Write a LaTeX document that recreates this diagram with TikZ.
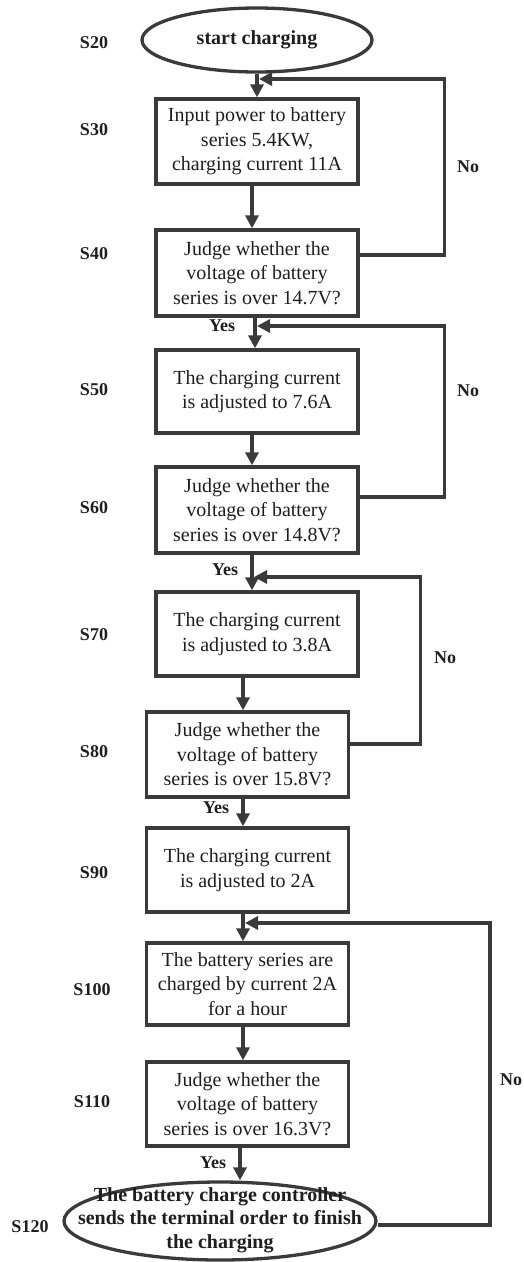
\documentclass[tikz,border=0pt]{standalone}
\usepackage{fontspec}
\setmainfont{Liberation Serif}
\usetikzlibrary{arrows.meta,shapes.geometric,calc}
\definecolor{ln}{HTML}{3A3A3A}
\definecolor{tx}{HTML}{1E1E1E}
\tikzset{
  procbox/.style={draw=ln, line width=3.3pt, rectangle, inner sep=0pt, align=center, text=tx,
    font=\fontsize{20}{24.5}\selectfont, minimum width=202pt},
  termnode/.style={draw=ln, line width=3.3pt, ellipse, inner sep=0pt, align=center, text=tx,
    font=\bfseries\fontsize{20}{23.5}\selectfont},
  termtext/.style={inner sep=0pt, align=center, text=tx, font=\bfseries\fontsize{20}{23.5}\selectfont},
  steplabel/.style={text=tx, font=\bfseries\fontsize{18}{20}\selectfont, inner sep=0pt},
  arr/.style={draw=ln, line width=3.3pt, -{Triangle[width=13pt,length=13pt]}},
  loopline/.style={draw=ln, line width=3.3pt, -{Triangle[width=13pt,length=13pt]}}
}
\begin{document}
\begin{tikzpicture}[x=1pt,y=-1pt]
\useasboundingbox (0,0) rectangle (524,1262);
% nodes
\node[termnode, minimum width=230pt, minimum height=64pt] (s20) at (257,40) {start charging};
\node[procbox, minimum height=85pt] (s30) at (257,141.5) {Input power to battery\\series 5.4KW,\\charging current 11A};
\node[procbox, minimum height=86pt] (s40) at (257,273) {Judge whether the\\voltage of battery\\series is over 14.7V?};
\node[procbox, minimum height=83pt] (s50) at (257,391.5) {The charging current\\is adjusted to 7.6A};
\node[procbox, minimum height=86pt] (s60) at (257,510) {Judge whether the\\voltage of battery\\series is over 14.8V?};
\node[procbox, minimum height=84pt] (s70) at (257,634) {The charging current\\is adjusted to 3.8A};
\node[procbox, minimum height=85pt] (s80) at (247.5,754.5) {Judge whether the\\voltage of battery\\series is over 15.8V?};
\node[procbox, minimum height=84pt] (s90) at (247.5,870) {The charging current\\is adjusted to 2A};
\node[procbox, minimum height=82pt] (s100) at (247.5,984) {The battery series are\\charged by current 2A\\for a hour};
\node[procbox, minimum height=84pt] (s110) at (247.5,1104) {Judge whether the\\voltage of battery\\series is over 16.3V?};
\node[draw=ln, line width=3.3pt, ellipse, inner sep=0pt, minimum width=312pt, minimum height=78pt] (s120) at (220,1221) {};
\node[termtext] (s120t) at ([yshift=1pt]s120.center) {The battery charge controller\\sends the terminal order to finish\\the charging};
% step labels
\node[steplabel] (l20) at (94,43) {S20};
\node[steplabel] (l30) at (94,130) {S30};
\node[steplabel] (l40) at (94,254) {S40};
\node[steplabel] (l50) at (94,390) {S50};
\node[steplabel] (l60) at (94,508) {S60};
\node[steplabel] (l70) at (94,635) {S70};
\node[steplabel] (l80) at (94,752) {S80};
\node[steplabel] (l90) at (94,873) {S90};
\node[steplabel] (l100) at (92,990) {S100};
\node[steplabel] (l110) at (92,1102) {S110};
\node[steplabel] (l120) at (30,1227) {S120};
% yes / no labels
\node[steplabel] (y40) at (222,326) {Yes};
\node[steplabel] (y60) at (225,570) {Yes};
\node[steplabel] (y80) at (216,808) {Yes};
\node[steplabel] (y110) at (213,1163) {Yes};
\node[steplabel] (n40) at (468,167) {No};
\node[steplabel] (n60) at (468,391) {No};
\node[steplabel] (n80) at (445,658) {No};
\node[steplabel] (n120) at (511,1080) {No};
% main flow
\draw[arr] (s20.south) -- (s30.north);
\draw[arr] ([xshift=-5pt]s30.south) -- ([xshift=-5pt]s40.north);
\draw[arr] ([xshift=-2pt]s40.south) -- ([xshift=-2pt]s50.north);
\draw[arr] ([xshift=-5pt]s50.south) -- ([xshift=-5pt]s60.north);
\draw[arr] ([xshift=-5pt]s60.south) -- ([xshift=-5pt]s70.north);
\draw[arr] ([xshift=-4.5pt]s70.south -| s80.north) -- ([xshift=-4.5pt]s80.north);
\draw[arr] ([xshift=-4.5pt]s80.south) -- ([xshift=-4.5pt]s90.north);
\draw[arr] ([xshift=-4.5pt]s90.south) -- ([xshift=-4.5pt]s100.north);
\draw[arr] ([xshift=-4.5pt]s100.south) -- ([xshift=-4.5pt]s110.north);
\draw[arr] ([xshift=-7.5pt]s110.south) -- ([xshift=-7.5pt]s110.south |- s120.north);
% loops
\coordinate (t1) at (259,79);
\coordinate (t2) at (257,326);
\coordinate (t3) at (254,577);
\coordinate (t4) at (245,923);
\draw[loopline] ([yshift=18pt]s40.east) -- ++(85,0) |- (t1);
\draw[loopline] ([yshift=13pt]s60.east) -- ++(85,0) |- (t2);
\draw[loopline] ([yshift=10.5pt]s80.east) -- ++(70,0) |- (t3);
\draw[loopline] ([yshift=-4pt]s120.east) -- (490,1225) |- (t4);
\end{tikzpicture}
\end{document}
